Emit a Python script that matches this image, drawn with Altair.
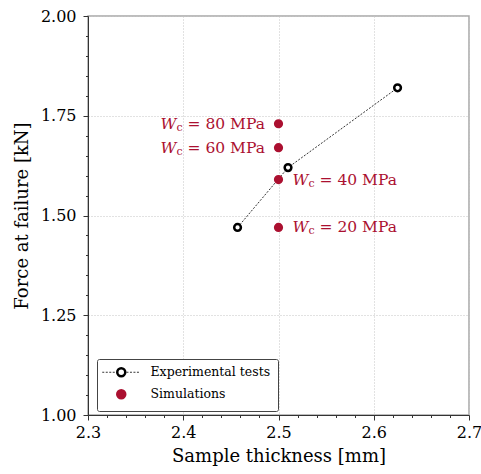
import altair as alt
import pandas as pd

# ---------------- data ----------------
exp_thickness = [2.457, 2.51, 2.625]
exp_force = [1.47, 1.62, 1.82]

sim_thickness = [2.5, 2.5, 2.5, 2.5]
sim_force = [1.47, 1.59, 1.67, 1.73]
sim_wc = [20, 40, 60, 80]
sim_label_side = ["right", "right", "left", "left"]

series_names = ["Experimental tests", "Simulations"]

x_ticks = [2.3, 2.4, 2.5, 2.6, 2.7]
y_ticks = [1.00, 1.25, 1.50, 1.75, 2.00]
x_minor = [2.32, 2.34, 2.36, 2.38, 2.42, 2.44, 2.46, 2.48, 2.52, 2.54, 2.56,
           2.58, 2.62, 2.64, 2.66, 2.68]
y_minor = [1.05, 1.10, 1.15, 1.20, 1.30, 1.35, 1.40, 1.45, 1.55, 1.60, 1.65,
           1.70, 1.80, 1.85, 1.90, 1.95]

RED = "#ab1030"
FONT = "DejaVu Serif"

exp_df = pd.DataFrame({"thickness": exp_thickness, "force": exp_force,
                       "series": series_names[0], "line_series": series_names[0]})
sim_df = pd.DataFrame({"thickness": sim_thickness, "force": sim_force,
                       "series": series_names[1], "wc": sim_wc, "side": sim_label_side})
sim_df["w_sym"] = "W"
sim_df["w_sub"] = "c"
sim_df["rest"] = "= " + sim_df["wc"].astype(str) + " MPa"
pts_df = pd.concat([exp_df[["thickness", "force", "series"]],
                    sim_df[["thickness", "force", "series"]]], ignore_index=True)

xscale = alt.Scale(domain=[2.3, 2.7], nice=False, zero=False)
yscale = alt.Scale(domain=[1.0, 2.0], nice=False, zero=False)

X_MAJOR = "abs(datum.value * 10 - round(datum.value * 10)) < 0.001"
Y_MAJOR = "abs(datum.value * 4 - round(datum.value * 4)) < 0.001"

x_axis = alt.Axis(values=sorted(x_ticks + x_minor), title="Sample thickness [mm]",
                  labelExpr=f"({X_MAJOR}) ? format(datum.value, '.1f') : ''",
                  labelOverlap=False, labelBound=False, labelFlush=False,
                  grid=True, gridDash=[1, 2], gridColor="#c4c4c4",
                  gridOpacity={"condition": {"test": X_MAJOR, "value": 1}, "value": 0},
                  tickSize={"condition": {"test": X_MAJOR, "value": 5}, "value": 2.5},
                  labelPadding=4, titlePadding=7, orient="bottom",
                  labelFontSize=16, titleFontSize=18)
y_axis = alt.Axis(values=sorted(y_ticks + y_minor), title="Force at failure [kN]",
                  labelExpr=f"({Y_MAJOR}) ? format(datum.value, '.2f') : ''",
                  labelOverlap=False, labelBound=False, labelFlush=False,
                  grid=True, gridDash=[1, 2], gridColor="#c4c4c4",
                  gridOpacity={"condition": {"test": Y_MAJOR, "value": 1}, "value": 0},
                  tickSize={"condition": {"test": Y_MAJOR, "value": 5}, "value": 2.5},
                  labelPadding=7, titlePadding=9, orient="left",
                  labelFontSize=16, titleFontSize=18)

line_legend = alt.Legend(title=None, orient="none", legendX=9, legendY=343,
                         symbolType="M-4.75,0H-1.3M1.3,0H4.75", symbolSize=64,
                         symbolStrokeWidth=0.8, symbolStrokeColor="black",
                         symbolDash=[2, 1.5], labelOpacity=0, labelFont=FONT,
                         labelFontSize=12.5, padding=7, rowPadding=3,
                         symbolOffset=11, labelOffset=23, zindex=2)

pt_legend = alt.Legend(title=None, orient="none", legendX=9, legendY=343,
                       symbolType="circle", symbolSize=64, symbolStrokeWidth=2.5,
                       labelFont=FONT, labelFontSize=12.5, labelColor="black",
                       padding=7, rowPadding=3, symbolOffset=11, labelOffset=23,
                       strokeColor="#444", fillColor="white", cornerRadius=2, zindex=1)

line = alt.Chart(exp_df).mark_line(color="black", strokeWidth=0.8).encode(
    x=alt.X("thickness:Q", scale=xscale, axis=x_axis),
    y=alt.Y("force:Q", scale=yscale, axis=y_axis),
    strokeDash=alt.StrokeDash("line_series:N", scale=alt.Scale(range=[[2, 1.5]]),
                              legend=line_legend),
)

points = alt.Chart(pts_df).mark_circle(size=45, strokeWidth=2.5, opacity=1).encode(
    x=alt.X("thickness:Q", scale=xscale, axis=x_axis),
    y=alt.Y("force:Q", scale=yscale, axis=y_axis),
    fill=alt.Fill("series:N", scale=alt.Scale(domain=series_names, range=["white", RED]),
                  legend=pt_legend),
    stroke=alt.Stroke("series:N", scale=alt.Scale(domain=series_names, range=["black", RED]),
                      legend=pt_legend),
)


def label_layer(side, field, dx, dy, size, italic):
    return alt.Chart(sim_df).transform_filter(
        alt.datum.side == side
    ).mark_text(align="left", baseline="middle", dx=dx, dy=dy, fontSize=size,
                font=FONT, fontStyle="italic" if italic else "normal", color=RED).encode(
        x=alt.X("thickness:Q", scale=xscale, axis=x_axis),
        y=alt.Y("force:Q", scale=yscale, axis=y_axis),
        text=alt.Text(field + ":N"),
    )


labels = [
    label_layer("left", "w_sym", -118, 0, 15.5, True),
    label_layer("left", "w_sub", -102, 4, 11, False),
    label_layer("left", "rest", -91, 0, 15.5, False),
    label_layer("right", "w_sym", 14, 0, 15.5, True),
    label_layer("right", "w_sub", 30, 4, 11, False),
    label_layer("right", "rest", 41, 0, 15.5, False),
]

chart = alt.layer(line, points, *labels).properties(
    width=381, height=399,
    autosize=alt.AutoSizeParams(type="none"),
    padding={"left": 88, "top": 16, "right": 12, "bottom": 59},
).configure_view(
    stroke="#a8a8a8", strokeWidth=1.5
).configure_axis(
    labelFont=FONT, titleFont=FONT, labelColor="black", titleColor="black",
    titleFontWeight="normal", domainColor="#333", tickColor="#333", domainWidth=1
)

chart.save("out.html", embed_options={"renderer": "svg", "actions": False})
